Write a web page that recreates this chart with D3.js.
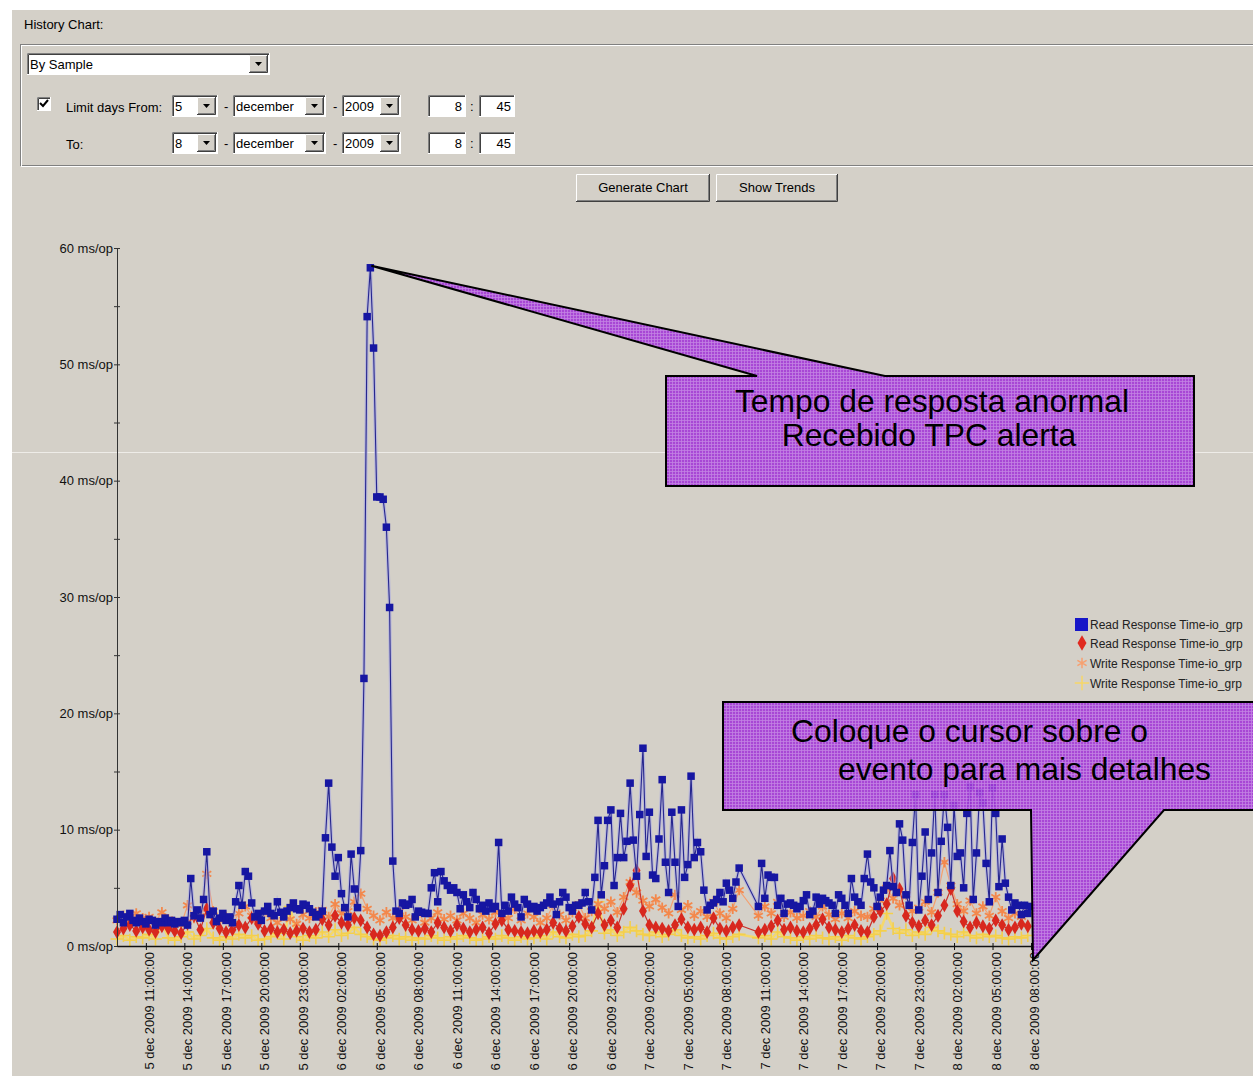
<!DOCTYPE html>
<html>
<head>
<meta charset="utf-8">
<script src="https://cdn.jsdelivr.net/npm/d3@7"></script>
<style>
body { margin: 0; background: #fff; overflow: hidden; }
svg text { font-family: "Liberation Sans", Arial, sans-serif; }
</style>
</head>
<body>
<script>

// samples start 5 dec 2009 08:45; read avg every 15 min, the other series every 30 min
var startTime = new Date(2009, 11, 5, 8, 45)
var endTime = new Date(2009, 11, 8, 8, 0)
var readStep = 15
var otherStep = 30

// blue squares (ms/op)
var readAvg = [
 2.3,2.7,2.0,2.5,2.8,2.2,2.0,2.4,2.1,1.9, 2.3,2.2,1.8,2.1,2.0,2.4,2.0,2.2,1.9,2.1,
 2.0,2.2,1.8,5.8,2.6,3.1,2.4,4.0,8.1,2.7, 3.0,2.1,2.4,2.8,2.2,2.5,2.0,3.8,5.2,3.5,
 6.4,6.0,3.7,2.5,2.8,2.2,3.0,3.4,2.8,2.6, 3.8,2.9,2.5,3.0,3.3,3.7,3.2,3.1,3.6,3.5,
 3.2,2.9,2.5,2.7,3.0,9.3,14.0,8.5,6.0,7.6, 4.5,3.3,2.5,7.9,4.9,3.3,8.2,23.0,54.1,58.3,
 51.4,38.6,38.6,38.4,36.0,29.1,7.3,3.0,2.8,3.7, 3.5,3.6,4.0,2.5,3.0,2.9,2.8,2.8,5.0,6.3,
 3.8,6.4,5.6,5.2,4.8,5.0,4.6,3.2,4.4,3.8, 3.3,4.6,4.0,3.2,3.5,3.0,3.7,3.2,3.4,8.9,
 2.8,3.5,3.0,4.2,3.6,3.3,2.5,4.0,3.6,3.2, 3.4,3.0,3.3,3.5,3.7,4.2,3.6,2.7,3.8,4.6,
 4.2,3.3,3.0,3.5,3.5,3.7,4.6,3.8,3.1,5.9, 10.8,4.4,6.9,10.8,11.7,5.2,7.6,11.4,7.6,9.0,
 14.0,9.1,6.0,11.3,17.0,7.7,11.5,6.1,5.8,9.2, 14.3,7.2,4.6,11.5,7.2,3.4,11.7,5.9,7.0,14.6,
 7.6,8.9,8.1,4.8,3.1,3.5,3.7,4.0,4.6,3.8, 5.4,4.8,4.1,5.5,6.7,null,null,null,null,null,
 3.4,7.1,4.1,6.1,5.9,5.9,3.5,4.1,2.8,3.6, 3.7,3.5,3.2,3.4,3.9,4.4,2.7,3.0,4.2,3.6,
 4.1,3.9,3.7,3.5,2.8,4.4,4.1,3.5,2.8,5.8, 4.2,3.8,3.5,5.8,7.9,5.5,5.0,3.4,4.2,4.8,
 5.2,8.2,5.1,4.6,10.5,9.1,4.4,3.5,8.9,13.0, 3.1,6.0,9.8,4.0,8.0,13.0,4.6,9.0,13.0,10.2,
 5.2,12.1,7.7,8.0,5.0,11.4,13.7,4.0,8.0,13.2, 12.3,7.1,3.8,13.6,11.4,5.1,9.2,5.4,4.2,3.1,
 3.7,3.5,2.7,3.5,2.8,3.4
]

// red diamonds
var readMax = [
 1.2,1.5,1.8,1.3,1.6, 1.4,1.2,1.7,1.5,1.3, 1.1,1.9,2.6,1.4,3.2, 2.0,1.5,1.2,1.4,1.8,
 1.6,2.4,1.9,1.3,1.5, 1.2,1.4,1.1,1.3,1.5, 1.2,1.4,2.3,1.8,2.6, 2.0,1.8,2.4,2.2,1.6,
 1.0,0.9,1.2,1.6,2.4, 1.8,1.4,1.3,1.5,1.2, 2.0,1.6,1.3,1.8,1.5, 1.2,1.4,1.6,1.1,1.9,
 2.2,1.4,1.3,1.2,1.1, 1.3,1.2,1.4,2.0,1.5, 1.3,1.7,2.5,1.9,1.6, 2.8,1.8,2.2,1.6,3.2,
 5.2,6.5,3.0,1.8,1.6, 1.5,1.3,1.8,2.3,1.6, 1.4,1.6,1.2,2.4,1.5, 1.3,1.6,1.8,null,null,
 1.2,1.4,1.7,2.2,1.4, 1.6,1.3,1.2,1.5,1.8, 2.3,1.6,1.4,1.2,1.5, 1.8,1.3,1.2,2.5,3.0,
 3.6,5.8,4.9,2.6,2.0, 1.7,2.2,1.8,2.6,3.5, 4.9,3.0,2.1,1.6,2.0, 1.7,1.5,2.2,1.8,1.4,
 1.6,1.9,1.7
]

// orange asterisks
var writeAvg = [
 2.2,2.6,2.0,2.8,2.4, 2.5,2.1,2.9,2.3,2.0, 1.8,3.5,2.4,2.9,6.2, 3.0,2.2,2.5,1.9,2.8,
 3.4,2.6,2.2,2.9,2.4, 2.0,2.6,2.3,1.9,2.7, 2.4,2.9,3.1,2.5,3.6, 2.8,3.0,3.8,4.5,3.2,
 2.6,2.2,2.9,2.4,3.0, 2.5,2.2,2.8,2.0,2.4, 2.9,2.3,2.6,2.2,2.8, 2.4,2.0,2.7,2.3,2.9,
 2.6,2.4,3.2,2.2,2.8, 2.5,2.0,2.4,3.5,2.7, 2.2,2.9,3.6,2.4,3.0, 3.6,3.2,3.8,2.9,4.2,
 5.5,4.6,3.9,3.4,4.0, 3.3,2.8,4.4,3.1,3.5, 2.6,3.0,2.5,3.8,2.8, 2.4,3.2,4.8,null,null,
 2.6,3.4,2.8,3.8,2.5, 2.9,2.4,2.6,3.0,2.5, 3.4,2.7,2.3,2.8,2.4, 3.0,2.6,2.5,3.2,3.9,
 5.0,4.1,3.5,4.4,3.0, 3.3,3.8,2.9,4.6,7.2, 5.2,3.6,3.0,3.9,2.8, 3.4,2.6,4.2,3.0,2.4,
 2.8,2.5,3.0
]

// yellow crosses
var writeMax = [
 0.6,0.9,0.5,0.8,0.7, 1.0,0.6,2.0,0.7,0.5, 0.8,1.2,0.6,0.9,1.5, 0.7,0.5,0.8,0.6,1.0,
 0.7,0.9,0.5,0.6,0.8, 1.1,0.6,3.4,0.8,0.5, 0.9,0.7,1.2,0.8,1.4, 0.9,1.1,1.6,1.0,0.8,
 0.6,0.5,0.7,0.9,0.6, 0.8,0.5,0.7,0.6,0.9, 0.7,0.5,0.8,0.6,0.9, 0.7,0.5,0.6,0.8,0.6,
 0.9,0.7,0.5,0.8,0.6, 0.7,0.9,0.6,1.2,0.8, 0.7,1.0,0.8,0.9,1.3, 3.8,1.1,1.4,0.9,1.2,
 1.6,1.3,1.0,0.9,1.2, 0.8,1.0,1.4,0.9,0.7, 0.8,0.6,0.9,1.1,0.7, 0.6,0.8,1.0,null,null,
 0.7,0.9,0.6,1.2,0.8, 0.7,0.5,0.8,0.6,0.9, 0.7,0.6,0.8,0.5,0.9, 0.7,0.6,0.8,1.0,1.3,
 2.8,1.5,1.1,1.4,0.9, 1.2,1.0,1.6,1.3,1.1, 1.0,0.8,1.2,0.9,0.7, 1.0,0.8,0.9,0.7,0.6,
 0.8,0.7,0.9
]

var yTicks = [0, 10, 20, 30, 40, 50, 60]
var yMinorTicks = [5, 15, 25, 35, 45, 55]
var xTickLabels = [
 "5 dec 2009 11:00:00","5 dec 2009 14:00:00","5 dec 2009 17:00:00","5 dec 2009 20:00:00",
 "5 dec 2009 23:00:00","6 dec 2009 02:00:00","6 dec 2009 05:00:00","6 dec 2009 08:00:00",
 "6 dec 2009 11:00:00","6 dec 2009 14:00:00","6 dec 2009 17:00:00","6 dec 2009 20:00:00",
 "6 dec 2009 23:00:00","7 dec 2009 02:00:00","7 dec 2009 05:00:00","7 dec 2009 08:00:00",
 "7 dec 2009 11:00:00","7 dec 2009 14:00:00","7 dec 2009 17:00:00","7 dec 2009 20:00:00",
 "7 dec 2009 23:00:00","8 dec 2009 02:00:00","8 dec 2009 05:00:00","8 dec 2009 08:00:00"
]
var legendLabels = ["Read Response Time-io_grp", "Read Response Time-io_grp",
                    "Write Response Time-io_grp", "Write Response Time-io_grp"]
var calloutTop = ["Tempo de resposta anormal", "Recebido TPC alerta"]
var calloutBottom = ["Coloque o cursor sobre o", "evento para mais detalhes"]

var W = 1253, H = 1076
var grey = "#d4d0c8"

var svg = d3.select("body").append("svg").attr("width", W).attr("height", H)

// window background
svg.append("rect").attr("width", W).attr("height", H).attr("fill", "#fff")
svg.append("rect").attr("x", 12).attr("y", 10).attr("width", W).attr("height", H).attr("fill", grey)

// purple grid pattern for the callouts
var pat = svg.append("defs").append("pattern").attr("id", "grid")
             .attr("width", 3).attr("height", 3).attr("patternUnits", "userSpaceOnUse")
pat.append("rect").attr("width", 3).attr("height", 3).attr("fill", "#a338d6")
pat.append("path").attr("d", "M0,0.5H3M0.5,0V3").attr("stroke", "#c27ae6").attr("stroke-width", 0.8)

drawForm()
drawChart()

// ---------- form controls ----------
function sunken(g, x, y, w, h)
{
  g.append("rect").attr("x", x).attr("y", y).attr("width", w).attr("height", h).attr("fill", "#fff")
  g.append("path").attr("d", "M" + (x + 0.5) + "," + (y + h) + "V" + (y + 0.5) + "H" + (x + w))
   .attr("fill", "none").attr("stroke", "#808080")
  g.append("path").attr("d", "M" + (x + 1.5) + "," + (y + h - 1) + "V" + (y + 1.5) + "H" + (x + w - 1))
   .attr("fill", "none").attr("stroke", "#404040")
  g.append("path").attr("d", "M" + x + "," + (y + h - 0.5) + "H" + (x + w - 0.5) + "V" + y)
   .attr("fill", "none").attr("stroke", "#fff")
}

function raised(g, x, y, w, h)
{
  g.append("rect").attr("x", x).attr("y", y).attr("width", w).attr("height", h).attr("fill", grey)
  g.append("path").attr("d", "M" + (x + 0.5) + "," + (y + h - 1) + "V" + (y + 0.5) + "H" + (x + w - 1))
   .attr("fill", "none").attr("stroke", "#fff")
  g.append("path").attr("d", "M" + x + "," + (y + h - 0.5) + "H" + (x + w - 0.5) + "V" + y)
   .attr("fill", "none").attr("stroke", "#404040")
  g.append("path").attr("d", "M" + (x + 1) + "," + (y + h - 1.5) + "H" + (x + w - 1.5) + "V" + (y + 1))
   .attr("fill", "none").attr("stroke", "#808080")
}

function combo(g, x, y, w, h, label)
{
  sunken(g, x, y, w, h)
  raised(g, x + w - 21, y + 2, 19, h - 4)
  var cx = x + w - 11.5, cy = y + h / 2
  g.append("path").attr("d", "M" + (cx - 3.5) + "," + (cy - 2) + "h7l-3.5,4z").attr("fill", "#000")
  g.append("text").attr("x", x + 3).attr("y", y + h / 2 + 4.5).attr("font-size", 13).text(label)
}

function field(g, x, y, w, h, label)
{
  sunken(g, x, y, w, h)
  g.append("text").attr("x", x + w - 4).attr("y", y + h / 2 + 4.5).attr("font-size", 13)
   .attr("text-anchor", "end").text(label)
}

function drawForm()
{
  var g = svg.append("g")
  g.append("text").attr("x", 24).attr("y", 29).attr("font-size", 13).text("History Chart:")

  // etched group box
  g.append("rect").attr("x", 20.5).attr("y", 44.5).attr("width", 1260).attr("height", 121)
   .attr("fill", "none").attr("stroke", "#808080")
  g.append("rect").attr("x", 21.5).attr("y", 45.5).attr("width", 1260).attr("height", 121)
   .attr("fill", "none").attr("stroke", "#fff")

  combo(g, 27, 53, 243, 22, "By Sample")

  // checkbox
  sunken(g, 37, 97, 14, 14)
  g.append("path").attr("d", "M40,103l3,3l5,-6").attr("fill", "none")
   .attr("stroke", "#000").attr("stroke-width", 2)

  var rows = [{y: 95, label: "Limit days From:", day: "5"}, {y: 132, label: "To:", day: "8"}]
  rows.forEach(function(r)
  {
    g.append("text").attr("x", 66).attr("y", r.y + 17).attr("font-size", 13).text(r.label)
    combo(g, 172, r.y, 46, 22, r.day)
    g.append("text").attr("x", 224).attr("y", r.y + 15.5).attr("font-size", 13).text("-")
    combo(g, 233, r.y, 93, 22, "december")
    g.append("text").attr("x", 333).attr("y", r.y + 15.5).attr("font-size", 13).text("-")
    combo(g, 342, r.y, 59, 22, "2009")
    field(g, 428, r.y, 38, 22, "8")
    g.append("text").attr("x", 470).attr("y", r.y + 15.5).attr("font-size", 13).text(":")
    field(g, 479, r.y, 36, 22, "45")
  })

  // buttons
  var buttons = [{x: 576, w: 134, label: "Generate Chart"}, {x: 716, w: 122, label: "Show Trends"}]
  buttons.forEach(function(b)
  {
    raised(g, b.x, 174, b.w, 28)
    g.append("text").attr("x", b.x + b.w / 2).attr("y", 192).attr("font-size", 13)
     .attr("text-anchor", "middle").text(b.label)
  })
}

// ---------- chart ----------
function toPoints(values, step)
{
  return values.map(function(v, i)
  {
    return {t: d3.timeMinute.offset(startTime, i * step), v: v}
  }).filter(function(d) { return d.v !== null })
}

function drawChart()
{
  var parse = d3.timeParse("%d %b %Y %H:%M:%S")
  var tickDates = xTickLabels.map(parse)

  var x = d3.scaleTime().domain([startTime, endTime]).range([117, 1031])
  var y = d3.scaleLinear().domain([0, 60]).range([946, 248])

  // screenshot seam
  svg.append("line").attr("x1", 12).attr("x2", W).attr("y1", 452.5).attr("y2", 452.5)
     .attr("stroke", "#eeece8").attr("stroke-width", 1)

  var line = d3.line().x(function(d) { return x(d.t) }).y(function(d) { return y(d.v) })

  var yellow = toPoints(writeMax, otherStep)
  var orange = toPoints(writeAvg, otherStep)
  var red = toPoints(readMax, otherStep)
  var blue = toPoints(readAvg, readStep)

  var plot = svg.append("g")

  // yellow crosses (stroke symbol)
  plot.append("path").datum(yellow).attr("d", line).attr("fill", "none")
      .attr("stroke", "#f5d86a").attr("stroke-width", 2.5)
  plot.selectAll(".ym").data(yellow).join("path").attr("class", "ym")
      .attr("transform", function(d) { return "translate(" + x(d.t) + "," + y(d.v) + ")" })
      .attr("d", d3.symbol(d3.symbolPlus, 55)).attr("fill", "none")
      .attr("stroke", "#f4cf4c").attr("stroke-width", 1.6)

  // orange asterisks
  plot.append("path").datum(orange).attr("d", line).attr("fill", "none")
      .attr("stroke", "#f4a070").attr("stroke-width", 1.2)
  plot.selectAll(".om").data(orange).join("path").attr("class", "om")
      .attr("transform", function(d) { return "translate(" + x(d.t) + "," + y(d.v) + ")" })
      .attr("d", d3.symbol(d3.symbolAsterisk, 75)).attr("fill", "none")
      .attr("stroke", "#f3884c").attr("stroke-width", 1.8)

  // red diamonds
  plot.append("path").datum(red).attr("d", line).attr("fill", "none")
      .attr("stroke", "#c8302a").attr("stroke-width", 1.2)
  plot.selectAll(".rm").data(red).join("path").attr("class", "rm")
      .attr("transform", function(d) { return "translate(" + x(d.t) + "," + y(d.v) + ")" })
      .attr("d", d3.symbol(d3.symbolDiamond, 55)).attr("fill", "#d8281e")

  // blue squares, with the light halo of the original line
  plot.append("path").datum(blue).attr("d", line).attr("fill", "none")
      .attr("stroke", "#a9a9e2").attr("stroke-width", 3.5).attr("stroke-opacity", 0.6)
  plot.append("path").datum(blue).attr("d", line).attr("fill", "none")
      .attr("stroke", "#26268e").attr("stroke-width", 1.1)
  plot.selectAll(".bm").data(blue).join("rect").attr("class", "bm")
      .attr("x", function(d) { return x(d.t) - 3.75 }).attr("y", function(d) { return y(d.v) - 3.75 })
      .attr("width", 7.5).attr("height", 7.5).attr("fill", "#1616a2")

  // y axis
  var yAxis = svg.append("g").attr("transform", "translate(117,0)")
     .call(d3.axisLeft(y).tickValues(yTicks).tickSize(3).tickSizeOuter(0)
       .tickFormat(function(d) { return d + " ms/op" }))
  yAxis.select(".domain").attr("stroke", "#333")
  yAxis.selectAll(".tick line").attr("x1", -3).attr("x2", 3).attr("stroke", "#333")
  yAxis.selectAll(".tick text").attr("x", -4).attr("font-size", 13).attr("fill", "#111")
       .attr("font-family", "Liberation Sans, Arial, sans-serif")
  var yMinor = svg.append("g").attr("transform", "translate(117,0)")
     .call(d3.axisLeft(y).tickValues(yMinorTicks).tickSize(3).tickFormat(""))
  yMinor.select(".domain").remove()
  yMinor.selectAll(".tick line").attr("x1", -3).attr("x2", 3).attr("stroke", "#333")

  // x axis
  var xAxis = svg.append("g").attr("transform", "translate(0,946)")
     .call(d3.axisBottom(x).tickValues(tickDates).tickSizeOuter(0)
       .tickFormat(function(d, i) { return xTickLabels[i] }))
  xAxis.select(".domain").attr("stroke", "#111").attr("stroke-width", 1.3)
  xAxis.selectAll(".tick line").attr("y1", -3).attr("y2", 4).attr("stroke", "#111")
  xAxis.selectAll(".tick text").attr("font-size", 13).attr("fill", "#111")
       .attr("font-family", "Liberation Sans, Arial, sans-serif")
       .attr("text-anchor", "end").attr("dy", null)
       .attr("transform", "translate(7.5,6) rotate(-90)").attr("x", 0).attr("y", 0)

  // legend
  var lg = svg.append("g").attr("transform", "translate(1082,0)")
  var rowsY = [624, 643, 663, 683]
  lg.append("rect").attr("x", -7).attr("y", rowsY[0] - 6).attr("width", 13).attr("height", 13).attr("fill", "#1616c8")
  lg.append("path").attr("transform", "translate(0," + rowsY[1] + ")")
    .attr("d", d3.symbol(d3.symbolDiamond, 70)).attr("fill", "#e02a20")
  lg.append("path").attr("transform", "translate(0," + rowsY[2] + ")")
    .attr("d", d3.symbol(d3.symbolAsterisk, 80)).attr("fill", "none").attr("stroke", "#f7a070").attr("stroke-width", 1.5)
  lg.append("path").attr("transform", "translate(0," + rowsY[3] + ")")
    .attr("d", d3.symbol(d3.symbolPlus, 70)).attr("fill", "none")
    .attr("stroke", "#f6d668").attr("stroke-width", 1.5)
  lg.selectAll(".lt").data(legendLabels).join("text").attr("class", "lt")
    .attr("x", 8).attr("y", function(d, i) { return rowsY[i] + 4.5 })
    .attr("font-size", 12).attr("fill", "#222").text(function(d) { return d })

  // callout pointing to the peak
  var peak = blue.reduce(function(a, b) { return b.v > a.v ? b : a })
  var tip1 = [x(peak.t) + 1, y(peak.v) - 2]
  var box1 = {x0: 666, x1: 1194, y0: 376, y1: 486}
  var shape1 = [[box1.x0, box1.y0], [757, box1.y0], tip1, [885, box1.y0], [box1.x1, box1.y0],
                [box1.x1, box1.y1], [box1.x0, box1.y1]]
  drawCallout(shape1, calloutTop, [{x: 932, y: 412, anchor: "middle"}, {x: 929, y: 446, anchor: "middle"}])

  // callout pointing to the end of the axis
  var tip2 = [x(endTime) + 2, y(0) + 14]
  var box2 = {x0: 723, x1: 1262, y0: 702, y1: 810}
  var shape2 = [[box2.x0, box2.y0], [box2.x1, box2.y0], [box2.x1, box2.y1], [1164, box2.y1], tip2,
                [1031, box2.y1], [box2.x0, box2.y1]]
  drawCallout(shape2, calloutBottom, [{x: 791, y: 742, anchor: "start"}, {x: 838, y: 780, anchor: "start"}])
}

function drawCallout(shape, lines, pos)
{
  var g = svg.append("g")
  var d = "M" + shape.map(function(p) { return p[0] + "," + p[1] }).join("L") + "Z"
  g.append("path").attr("d", d).attr("fill", "url(#grid)").attr("fill-opacity", 0.9)
  g.append("path").attr("d", d).attr("fill", "none").attr("stroke", "#000")
   .attr("stroke-width", 2).attr("stroke-linejoin", "miter")
  g.selectAll("text").data(lines).join("text")
   .attr("x", function(t, i) { return pos[i].x }).attr("y", function(t, i) { return pos[i].y })
   .attr("text-anchor", function(t, i) { return pos[i].anchor })
   .attr("font-size", 31.8).attr("fill", "#000").text(function(t) { return t })
}

</script>
</body>
</html>
